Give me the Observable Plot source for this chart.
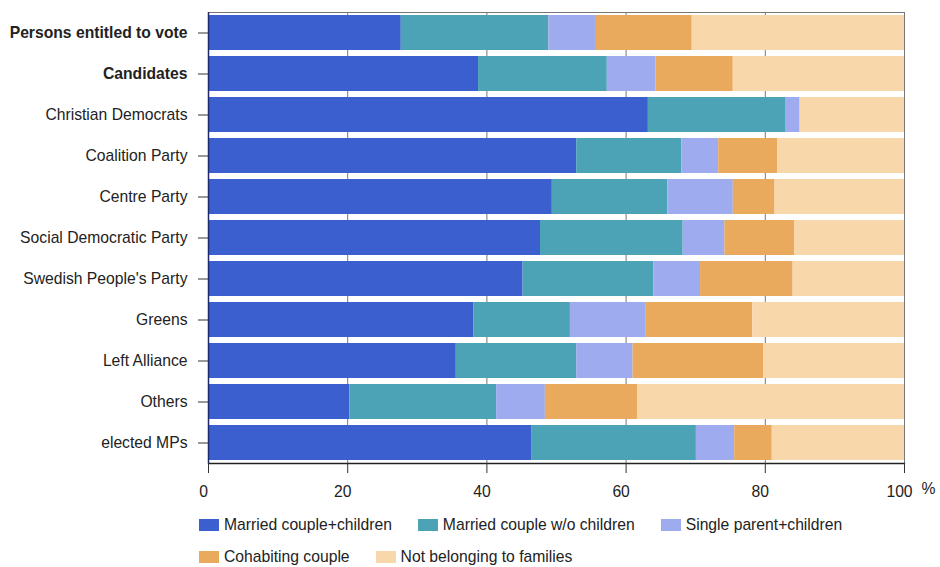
<!DOCTYPE html>
<html>
<head>
<meta charset="utf-8">
<script src="https://cdn.jsdelivr.net/npm/d3@7"></script>
<script src="https://cdn.jsdelivr.net/npm/@observablehq/plot@0.6"></script>
<style>
  html, body { margin: 0; padding: 0; background: #fff; }
  #wrap { position: relative; width: 940px; height: 567px; font-family: 'Liberation Sans', Arial, sans-serif; }
  #legend { position: absolute; left: 199px; top: 516px; width: 730px; font-size: 15.7px; color: #222; }
  .row { display: flex; column-gap: 26px; height: 18px; margin-bottom: 14px; }
  .item { display: flex; align-items: center; height: 18px; white-space: nowrap; }
  .sw { width: 20px; height: 12px; margin-right: 5px; display: inline-block; }
</style>
</head>
<body>
<div id="wrap">
  <div id="chart"></div>
  <div id="legend"></div>
</div>
<script>
const categories = [
  "Persons entitled to vote", "Candidates", "Christian Democrats", "Coalition Party",
  "Centre Party", "Social Democratic Party", "Swedish People's Party", "Greens",
  "Left Alliance", "Others", "elected MPs"
];
const boldCategories = ["Persons entitled to vote", "Candidates"];

const seriesNames = [
  "Married couple+children", "Married couple w/o children", "Single parent+children",
  "Cohabiting couple", "Not belonging to families"
];
const seriesColors = ["#3c5fd0", "#4ca3b6", "#9eabef", "#e9aa5e", "#f8d8ab"];

// percent shares per category (same order as categories)
const marriedWithChildren    = [27.7, 38.8, 63.2, 52.9, 49.4, 47.7, 45.2, 38.1, 35.6, 20.3, 46.5];
const marriedWithoutChildren = [21.2, 18.5, 19.8, 15.1, 16.6, 20.5, 18.8, 13.9, 17.3, 21.1, 23.6];
const singleParent           = [ 6.7,  7.0,  2.0,  5.3,  9.4,  6.0,  6.7, 10.9,  8.1,  7.0,  5.5];
const cohabiting             = [13.9, 11.1,  0.0,  8.5,  6.0, 10.0, 13.3, 15.3, 18.8, 13.3,  5.4];
const notInFamilies          = [30.5, 24.6, 15.0, 18.2, 18.6, 15.8, 16.0, 21.8, 20.2, 38.3, 19.0];

const xTicks = [0, 20, 40, 60, 80, 100];
const gridTicks = [20, 40, 60, 80];
const unitLabel = ["%"];

const seriesValues = [marriedWithChildren, marriedWithoutChildren, singleParent, cohabiting, notInFamilies];
const data = categories.flatMap((c, i) =>
  seriesNames.map((s, j) => ({ category: c, type: s, value: seriesValues[j][i] }))
);

const chart = Plot.plot({
  width: 940,
  height: 505,
  marginLeft: 208,
  marginRight: 36,
  marginTop: 12,
  marginBottom: 42,
  style: { fontFamily: "'Liberation Sans', Arial, sans-serif", fontSize: "15.7px", color: "#222", background: "#fff" },
  x: { domain: [0, 100], label: null, axis: null },
  y: { domain: categories, paddingInner: 0.15, paddingOuter: 0.075, label: null, axis: null },
  color: { domain: seriesNames, range: seriesColors },
  marks: [
    Plot.gridX(gridTicks, { stroke: "#777", strokeOpacity: 1, strokeWidth: 1 }),
    Plot.barX(data, Plot.stackX({ x: "value", y: "category", fill: "type", order: seriesNames })),
    Plot.frame({ stroke: "#777" }),
    Plot.frame({ anchor: "bottom", stroke: "#222", strokeWidth: 1.3 }),
    Plot.ruleX([0], { stroke: "#1c2a6a", strokeWidth: 1.5 }),
    Plot.axisX(xTicks, { tickSize: 10, text: null, stroke: "#333", label: null }),
    Plot.axisX(xTicks, { tickSize: 0, tickPadding: 22, dx: -5, fill: "#222", label: null, tickFormat: d => String(d) }),
    Plot.axisY({ tickSize: 10, tickPadding: 11, stroke: "#333", fill: "#222", label: null }),
    Plot.text(unitLabel, { frameAnchor: "bottom-right", text: d => d, dx: 31, dy: 30, fill: "#222" })
  ]
});

document.getElementById("chart").appendChild(chart);

// bold labels for the first two categories
d3.select(chart).selectAll("g[aria-label='y-axis tick label'] text")
  .filter(function () { return boldCategories.includes(this.textContent); })
  .attr("font-weight", "bold");

// legend: two rows (3 + 2 items)
const legend = d3.select("#legend");
const legendRows = [seriesNames.slice(0, 3), seriesNames.slice(3)];
legendRows.forEach(names => {
  const row = legend.append("div").attr("class", "row");
  names.forEach(s => {
    const item = row.append("div").attr("class", "item");
    item.append("span").attr("class", "sw").style("background", seriesColors[seriesNames.indexOf(s)]);
    item.append("span").text(s);
  });
});
</script>
</body>
</html>
